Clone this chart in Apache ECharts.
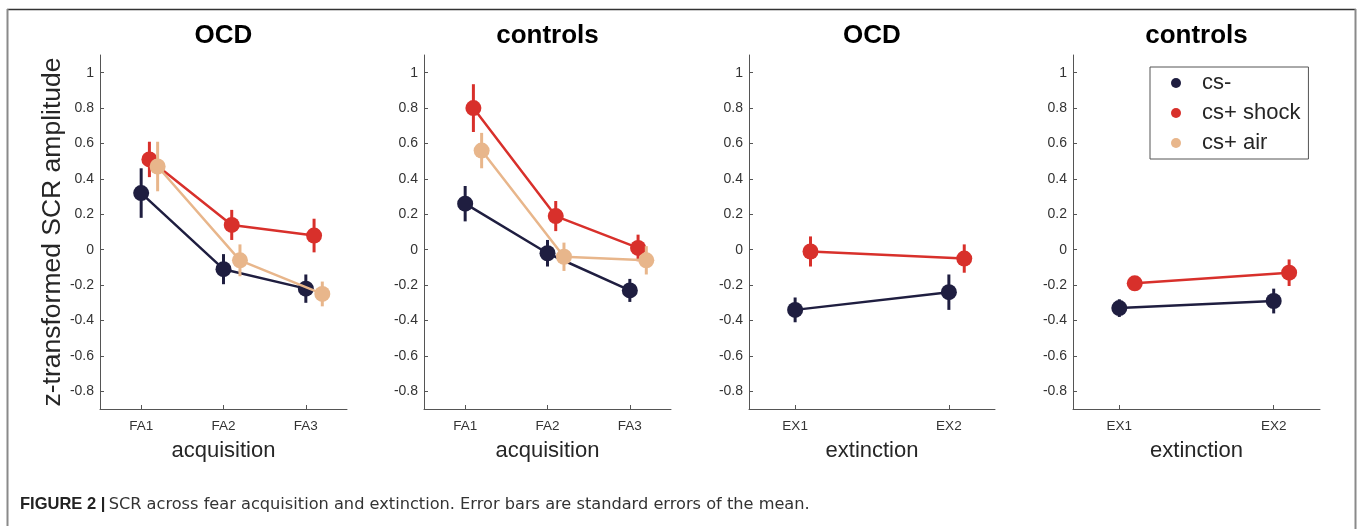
<!DOCTYPE html>
<html>
<head>
<meta charset="utf-8">
<script src="https://cdn.jsdelivr.net/npm/echarts@6/dist/echarts.min.js"></script>
<style>
  html, body { margin: 0; padding: 0; background: #fff; }
  #chart { width: 1357px; height: 529px; }
</style>
</head>
<body>
<div id="chart"></div>
<script>
// ---------- data ----------
const acqCategories = ['FA1', 'FA2', 'FA3'];
const extCategories = ['EX1', 'EX2'];
const yTickValues = [-0.8, -0.6, -0.4, -0.2, 0, 0.2, 0.4, 0.6, 0.8, 1];
const seriesNames = ['cs-', 'cs+ shock', 'cs+ air'];
const panelTitles = ['OCD', 'controls', 'OCD', 'controls'];
const phaseNames = ['acquisition', 'acquisition', 'extinction', 'extinction'];

// OCD, acquisition
const ocdAcqCsMinus = [0.32, -0.11, -0.22];
const ocdAcqCsMinusSE = [0.14, 0.085, 0.08];
const ocdAcqShock = [0.51, 0.14, 0.08];
const ocdAcqShockSE = [0.10, 0.085, 0.095];
const ocdAcqAir = [0.47, -0.06, -0.25];
const ocdAcqAirSE = [0.14, 0.09, 0.07];

// controls, acquisition
const ctlAcqCsMinus = [0.26, -0.02, -0.23];
const ctlAcqCsMinusSE = [0.10, 0.075, 0.065];
const ctlAcqShock = [0.80, 0.19, 0.01];
const ctlAcqShockSE = [0.135, 0.085, 0.075];
const ctlAcqAir = [0.56, -0.04, -0.06];
const ctlAcqAirSE = [0.10, 0.08, 0.08];

// OCD, extinction
const ocdExtCsMinus = [-0.34, -0.24];
const ocdExtCsMinusSE = [0.07, 0.10];
const ocdExtShock = [-0.01, -0.05];
const ocdExtShockSE = [0.085, 0.08];

// controls, extinction
const ctlExtCsMinus = [-0.33, -0.29];
const ctlExtCsMinusSE = [0.05, 0.07];
const ctlExtShock = [-0.19, -0.13];
const ctlExtShockSE = [0.03, 0.075];

// ---------- styling / layout ----------
const colors = ['#1f1e40', '#d8302b', '#e8b68b'];
const xOffsets = [0, 0.1, 0.2];
const FONT = '"Liberation Sans", Arial, Helvetica, sans-serif';
const CAP_FONT = '"DejaVu Sans", Verdana, sans-serif';
const TXT = '#262626';
const AX = '#555555';

const panels = [
  { cats: acqCategories, xmin: 0.5, xmax: 3.5, left: 100, width: 247,
    conds: [[ocdAcqCsMinus, ocdAcqCsMinusSE], [ocdAcqShock, ocdAcqShockSE], [ocdAcqAir, ocdAcqAirSE]] },
  { cats: acqCategories, xmin: 0.5, xmax: 3.5, left: 424, width: 247,
    conds: [[ctlAcqCsMinus, ctlAcqCsMinusSE], [ctlAcqShock, ctlAcqShockSE], [ctlAcqAir, ctlAcqAirSE]] },
  { cats: extCategories, xmin: 0.7, xmax: 2.3, left: 749, width: 246,
    conds: [[ocdExtCsMinus, ocdExtCsMinusSE], [ocdExtShock, ocdExtShockSE]] },
  { cats: extCategories, xmin: 0.7, xmax: 2.3, left: 1073, width: 247,
    conds: [[ctlExtCsMinus, ctlExtCsMinusSE], [ctlExtShock, ctlExtShockSE]] }
];

const gridTop = 55, gridHeight = 354;

const grids = [], xAxes = [], yAxes = [], titles = [], series = [];

panels.forEach((p, pi) => {
  grids.push({ left: p.left, top: gridTop, width: p.width, height: gridHeight, containLabel: false });
  titles.push({
    text: panelTitles[pi], left: p.left + p.width / 2, top: 23, textAlign: 'center', padding: 0,
    textStyle: { fontFamily: FONT, fontSize: 26, fontWeight: 'bold', color: '#000' }
  });
  const tickVals = p.cats.map((c, i) => i + 1);
  xAxes.push({
    type: 'value', gridIndex: pi, min: p.xmin, max: p.xmax,
    name: phaseNames[pi], nameLocation: 'middle', nameGap: 31,
    nameTextStyle: { fontFamily: FONT, fontSize: 22, color: TXT },
    axisLine: { show: true, onZero: false, lineStyle: { color: AX, width: 1 } },
    axisTick: { show: true, inside: true, length: 4, customValues: tickVals, lineStyle: { color: AX } },
    axisLabel: { show: true, customValues: tickVals, margin: 10, fontFamily: FONT, fontSize: 13.5, color: '#333',
      formatter: v => p.cats[Math.round(v) - 1] || '' },
    splitLine: { show: false }
  });
  yAxes.push({
    type: 'value', gridIndex: pi, min: -0.9, max: 1.1,
    name: pi === 0 ? 'z-transformed SCR amplitude' : '', nameLocation: 'middle', nameGap: 34, nameRotate: 90,
    nameTextStyle: { fontFamily: FONT, fontSize: 26.5, color: TXT },
    axisLine: { show: true, lineStyle: { color: AX, width: 1 } },
    axisTick: { show: true, inside: true, length: 4, customValues: yTickValues, lineStyle: { color: AX } },
    axisLabel: { show: true, customValues: yTickValues, margin: 6, fontFamily: FONT, fontSize: 14, color: '#333',
      formatter: v => String(Math.round(v * 10) / 10) },
    splitLine: { show: false }
  });

  p.conds.forEach((cd, ci) => {
    const vals = cd[0], se = cd[1];
    const col = colors[ci];
    const errData = vals.map((v, i) => [i + 1 + xOffsets[ci], v - se[i], v + se[i]]);
    series.push({
      type: 'custom', name: 'err' + ci, xAxisIndex: pi, yAxisIndex: pi, z: 2 + ci * 2,
      data: errData, encode: { x: 0, y: [1, 2] }, silent: true,
      renderItem: (params, api) => {
        const x = api.value(0);
        const a = api.coord([x, api.value(1)]);
        const b = api.coord([x, api.value(2)]);
        return { type: 'line', shape: { x1: a[0], y1: a[1], x2: b[0], y2: b[1] },
          style: { stroke: col, lineWidth: 3 } };
      }
    });
    series.push({
      type: 'line', name: seriesNames[ci], xAxisIndex: pi, yAxisIndex: pi, z: 3 + ci * 2,
      data: vals.map((v, i) => [i + 1 + xOffsets[ci], v]),
      symbol: 'circle', symbolSize: 16, showSymbol: true,
      lineStyle: { color: col, width: 2.5 },
      itemStyle: { color: col, borderWidth: 0 },
      emphasis: { disabled: true }
    });
  });
});

const chart = echarts.init(document.getElementById('chart'), null, { renderer: 'canvas' });
chart.setOption({
  animation: false,
  backgroundColor: '#fff',
  title: titles,
  grid: grids,
  xAxis: xAxes,
  yAxis: yAxes,
  legend: {
    data: seriesNames, orient: 'vertical', left: 1150, top: 67,
    itemWidth: 10, itemHeight: 10, itemGap: 8, icon: 'circle',
    padding: [5, 8, 5, 21], borderColor: '#555', borderWidth: 1, backgroundColor: '#fff',
    selectedMode: false,
    textStyle: { fontFamily: FONT, fontSize: 22, color: TXT, lineHeight: 22, padding: [0, 0, 0, 16] }
  },
  series: series,
  graphic: [
    { type: 'line', shape: { x1: 7, y1: 9.5, x2: 1356, y2: 9.5 }, style: { stroke: '#333', lineWidth: 1.5 }, silent: true },
    { type: 'line', shape: { x1: 7.5, y1: 9, x2: 7.5, y2: 526 }, style: { stroke: '#8a8a8a', lineWidth: 2 }, silent: true },
    { type: 'line', shape: { x1: 1355.5, y1: 9, x2: 1355.5, y2: 529 }, style: { stroke: '#8a8a8a', lineWidth: 2 }, silent: true },
    { type: 'text', left: 20, top: 496, silent: true,
      style: {
        text: '{b|FIGURE 2 |} {n|SCR across fear acquisition and extinction. Error bars are standard errors of the mean.}',
        rich: {
          b: { fontFamily: FONT, fontSize: 16.5, fontWeight: 'bold', fill: '#222' },
          n: { fontFamily: CAP_FONT, fontSize: 16.2, fill: '#333' }
        }
      }
    }
  ]
});
</script>
</body>
</html>
